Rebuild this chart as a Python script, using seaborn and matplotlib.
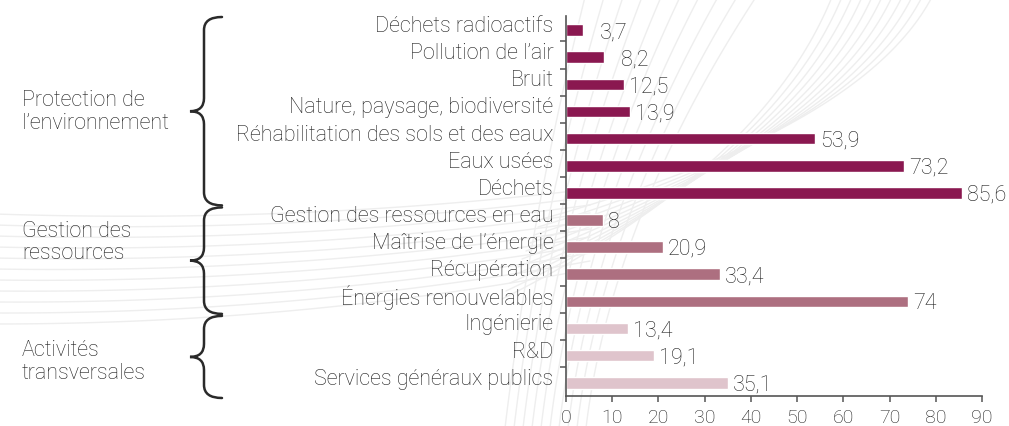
import numpy as np
import pandas as pd
import matplotlib
matplotlib.use("Agg")
import matplotlib.pyplot as plt
from matplotlib.path import Path
from matplotlib.patches import PathPatch
from matplotlib.transforms import ScaledTranslation
import seaborn as sns

# ---- data -------------------------------------------------------------
categories = [
    "Déchets radioactifs",
    "Pollution de l’air",
    "Bruit",
    "Nature, paysage, biodiversité",
    "Réhabilitation des sols et des eaux",
    "Eaux usées",
    "Déchets",
    "Gestion des ressources en eau",
    "Maîtrise de l’énergie",
    "Récupération",
    "Énergies renouvelables",
    "Ingénierie",
    "R&D",
    "Services généraux publics",
]
values = [3.7, 8.2, 12.5, 13.9, 53.9, 73.2, 85.6,
          8, 20.9, 33.4, 74,
          13.4, 19.1, 35.1]
groups = ["Protection de\nl’environnement"] * 7 + ["Gestion des\nressources"] * 4 \
    + ["Activités\ntransversales"] * 3
group_names = ["Protection de\nl’environnement", "Gestion des\nressources",
               "Activités\ntransversales"]
group_colors = ["#8A1850", "#AD6F80", "#DFC4CC"]
x_ticks = [0, 10, 20, 30, 40, 50, 60, 70, 80, 90]

df = pd.DataFrame({"categorie": categories, "valeur": values, "groupe": groups})

# ---- style ------------------------------------------------------------
sns.set_theme(style="white")
FONT = ["Roboto", "DejaVu Sans"]
plt.rcParams["font.family"] = FONT
plt.rcParams["font.weight"] = "light"
TXT = "#1e1e1e"
FS = 15.5

W, H = 1009, 427
fig = plt.figure(figsize=(W / 100, H / 100), dpi=100)

# background layer in pixel units (decorative mesh, brackets, group names)
bg = fig.add_axes([0, 0, 1, 1], zorder=0)
bg.set_xlim(0, W)
bg.set_ylim(H, 0)
bg.axis("off")

# main chart
ax = fig.add_axes([566 / W, 30 / H, 416 / W, 380 / H], zorder=1)
ax.patch.set_alpha(0)

sns.barplot(data=df, y="categorie", x="valeur", hue="groupe",
            hue_order=group_names, palette=group_colors, orient="h",
            width=0.43, dodge=False, legend=False, saturation=1, ax=ax)

n = len(categories)
ax.set_ylim(n - 0.51, -0.52)
ax.set_xlim(0, 90)
ax.set_xticks(x_ticks)
ax.set_xlabel("")
ax.set_ylabel("")

for side in ("top", "right"):
    ax.spines[side].set_visible(False)
for side in ("left", "bottom"):
    ax.spines[side].set_color("#555555")
    ax.spines[side].set_linewidth(1.2)

ax.tick_params(axis="x", direction="out", length=4, width=1.1, color="#555555",
               labelsize=14, labelcolor=TXT, pad=5, bottom=True)
ax.tick_params(axis="y", which="major", length=0, labelsize=FS, labelcolor=TXT, pad=9)
ax.set_yticks(np.arange(n))
ax.set_yticklabels(categories)
ax.set_yticks(np.arange(n - 1) + 0.42, minor=True)
ax.tick_params(axis="y", which="minor", direction="out", length=4, width=1.1,
               color="#555555", left=True)
shift = ScaledTranslation(0, 0.07, fig.dpi_scale_trans)
for lab in ax.get_yticklabels():
    lab.set_transform(lab.get_transform() + shift)

# value labels
for i, v in enumerate(values):
    txt = f"{v:g}".replace(".", ",")
    off = 12 if (v < 10 and v != int(v)) else 3.5
    ax.annotate(txt, xy=(v, i), xytext=(off, -1), textcoords="offset points",
                ha="left", va="center", fontsize=FS, color=TXT)

fig.canvas.draw()


def ypix(yd):
    """data y of the main axes -> background pixel y"""
    return H - ax.transData.transform((0, yd))[1]


# ---- decorative curved mesh ------------------------------------------
mesh = dict(color="#eeeeee", lw=1.0, zorder=0)


def bez(p0, p1, p2, num=60):
    t = np.linspace(0, 1, num)[:, None]
    p0, p1, p2 = map(np.asarray, (p0, p1, p2))
    return (1 - t) ** 2 * p0 + 2 * (1 - t) * t * p1 + t ** 2 * p2


for k in range(11):
    x0 = 832 + 10 * k
    c = bez((x0, -2), (x0 - 70, 170 - 4 * k), (x0 - 330 - 6 * k, 300 - 8 * k))
    bg.plot(c[:, 0], c[:, 1], **mesh)
for k in range(11):
    c = bez((-5, 215 + 11 * k), (300, 225 + 10 * k), (590, 190 + 8 * k))
    bg.plot(c[:, 0], c[:, 1], **mesh)
for k in range(10):
    xb = 505 + 9 * k
    c = bez((xb, H + 2), (xb + 25, 220), (xb + 80 + 10 * k, -2))
    bg.plot(c[:, 0], c[:, 1], **mesh)

# ---- group brackets and names ----------------------------------------
bounds = [-0.52, 6.5, 10.5, n - 0.51]
x_end, x_stem, x_tip, r = 222, 204, 190, 13
label_dy = [0, -19, 4]
for g, name in enumerate(group_names):
    y0 = ypix(bounds[g]) + 1
    y1 = ypix(bounds[g + 1]) - 1 + (3 if g == 2 else 0)
    ym = (y0 + y1) / 2
    verts = [(x_end, y0), (x_stem, y0), (x_stem, y0 + r),
             (x_stem, ym - r), (x_stem, ym), (x_tip, ym),
             (x_stem, ym), (x_stem, ym + r),
             (x_stem, y1 - r), (x_stem, y1), (x_end, y1)]
    codes = [Path.MOVETO, Path.CURVE3, Path.CURVE3,
             Path.LINETO, Path.CURVE3, Path.CURVE3,
             Path.CURVE3, Path.CURVE3,
             Path.LINETO, Path.CURVE3, Path.CURVE3]
    bg.add_patch(PathPatch(Path(verts, codes), fill=False, lw=1.8,
                           edgecolor="#2a2a2a", capstyle="round", zorder=2))
    bg.text(22, ym + label_dy[g], name, ha="left", va="center", fontsize=FS,
            color=TXT, linespacing=1.1, zorder=3)

fig.savefig("out.png", dpi=100, facecolor="white")
